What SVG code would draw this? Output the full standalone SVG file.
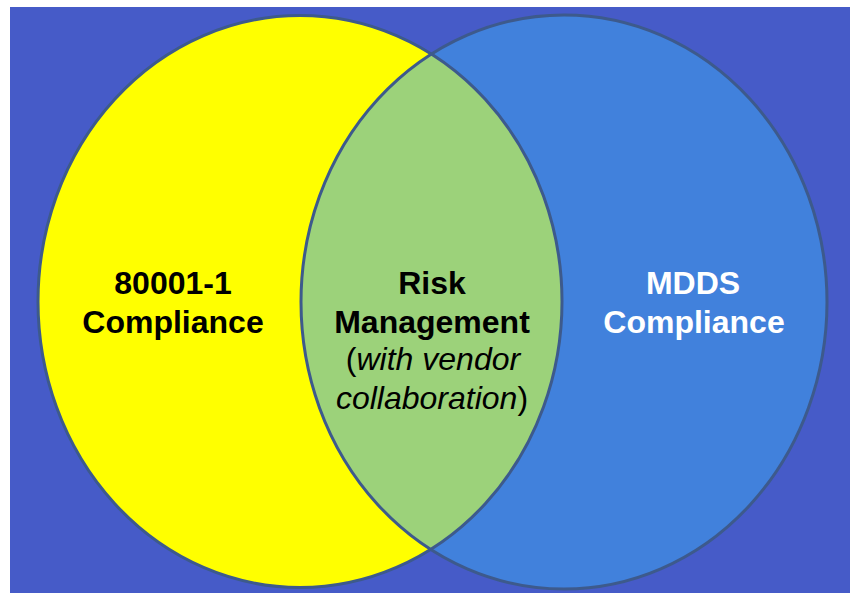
<svg xmlns="http://www.w3.org/2000/svg" width="850" height="594" viewBox="0 0 850 594">
<style>
.t{font-family:"Liberation Sans",Arial,sans-serif;font-size:32px;text-anchor:middle}
.b{font-weight:bold}
.i{font-style:italic}
.edge{fill:none;stroke:#3d5a8c;stroke-width:3}
</style>
<defs>
<clipPath id="clipL"><ellipse cx="300" cy="301.5" rx="262" ry="286"/></clipPath>
</defs>
<rect x="0" y="0" width="850" height="594" fill="#ffffff"/>
<rect x="10" y="7" width="840" height="586" fill="#465bc8"/>
<g id="left-set">
<ellipse cx="300" cy="301.5" rx="262" ry="286" fill="#ffff00"/>
</g>
<g id="right-set">
<ellipse cx="564" cy="302" rx="263" ry="287" fill="#4181dc"/>
</g>
<g id="overlap">
<ellipse cx="564" cy="302" rx="263" ry="287" fill="#9cd27a" clip-path="url(#clipL)"/>
</g>
<g id="outlines">
<ellipse class="edge" cx="300" cy="301.5" rx="262" ry="286"/>
<ellipse class="edge" cx="564" cy="302" rx="263" ry="287"/>
</g>
<g id="labels">
<text class="t b" x="173" y="294" fill="#000">80001-1</text>
<text class="t b" x="173" y="333" fill="#000">Compliance</text>
<text class="t b" x="432" y="294" fill="#000">Risk</text>
<text class="t b" x="432" y="333" fill="#000">Management</text>
<text class="t" x="433" y="370" fill="#000">(<tspan class="i">with vendor</tspan></text>
<text class="t" x="432" y="409" fill="#000"><tspan class="i">collaboration</tspan>)</text>
<text class="t b" x="693" y="294" fill="#fff">MDDS</text>
<text class="t b" x="694" y="333" fill="#fff">Compliance</text>
</g>
</svg>
